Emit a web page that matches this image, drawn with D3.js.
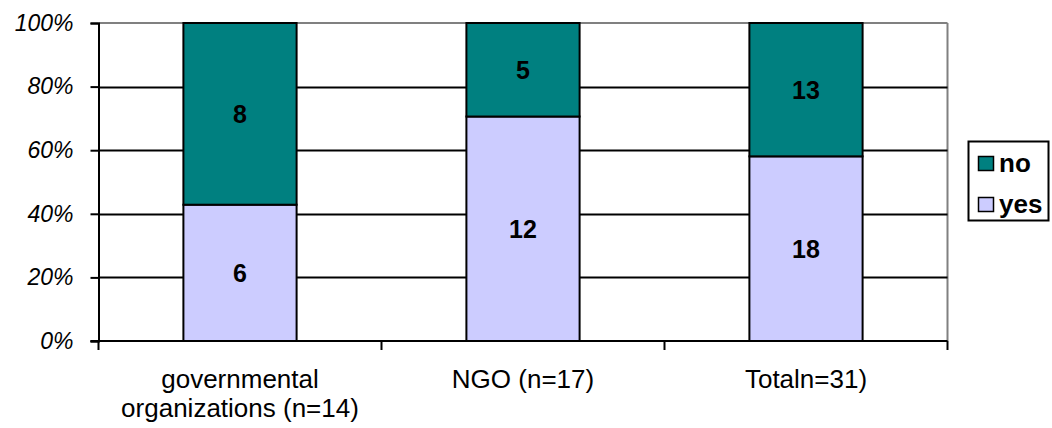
<!DOCTYPE html>
<html>
<head>
<meta charset="utf-8">
<script src="https://cdn.jsdelivr.net/npm/d3@7"></script>
<style>
  html, body { margin: 0; padding: 0; background: #fff; }
  svg { display: block; font-family: "Liberation Sans", Arial, sans-serif; }
</style>
</head>
<body>
<svg id="chart" width="1052" height="428"></svg>
<script>
// Survey answers per organization type
const categories = ["governmental organizations (n=14)", "NGO (n=17)", "Totaln=31)"];
const categoryLines = [["governmental", "organizations (n=14)"], ["NGO (n=17)"], ["Totaln=31)"]];
const yesCounts = [6, 12, 18];
const noCounts = [8, 5, 13];
const seriesNames = ["yes", "no"];
const yTicks = [0, 0.2, 0.4, 0.6, 0.8, 1.0];

const colors = { yes: "#CCCCFF", no: "#008080" };

const svg = d3.select("#chart");
const plot = { left: 98.5, right: 947.5, top: 23, bottom: 341 };

const x = d3.scaleBand()
  .domain(categories)
  .range([plot.left, plot.right])
  .paddingInner(0.6)
  .paddingOuter(0.3);

const y = d3.scaleLinear().domain([0, 1]).range([plot.bottom, plot.top]);

// Stack shares of yes / no per category
const rows = categories.map((c, i) => ({
  cat: c,
  yes: yesCounts[i] / (yesCounts[i] + noCounts[i]),
  no: noCounts[i] / (yesCounts[i] + noCounts[i]),
  yesN: yesCounts[i],
  noN: noCounts[i]
}));
const stacked = d3.stack().keys(seriesNames)(rows);

// Plot frame (gray top and right edges)
svg.append("line")
  .attr("x1", plot.left).attr("x2", plot.right)
  .attr("y1", plot.top).attr("y2", plot.top)
  .attr("stroke", "#808080").attr("stroke-width", 2);
svg.append("line")
  .attr("x1", plot.right).attr("x2", plot.right)
  .attr("y1", plot.top).attr("y2", plot.bottom)
  .attr("stroke", "#808080").attr("stroke-width", 2);

// Horizontal gridlines
svg.append("g")
  .selectAll("line")
  .data(yTicks.filter(t => t > 0 && t < 1))
  .join("line")
  .attr("x1", plot.left).attr("x2", plot.right)
  .attr("y1", d => Math.round(y(d)) + 0.5).attr("y2", d => Math.round(y(d)) + 0.5)
  .attr("stroke", "#000").attr("stroke-width", 2);

// Bars
const layer = svg.append("g")
  .selectAll("g")
  .data(stacked)
  .join("g")
  .attr("fill", d => colors[d.key]);

layer.selectAll("rect")
  .data(d => d.map(v => ({ key: d.key, v })))
  .join("rect")
  .attr("x", d => x(d.v.data.cat))
  .attr("width", x.bandwidth())
  .attr("y", d => y(d.v[1]))
  .attr("height", d => y(d.v[0]) - y(d.v[1]))
  .attr("stroke", "#000")
  .attr("stroke-width", 2);

// Value labels centred in each segment
layer.selectAll("text")
  .data(d => d.map(v => ({ key: d.key, v })))
  .join("text")
  .attr("x", d => x(d.v.data.cat) + x.bandwidth() / 2)
  .attr("y", d => (y(d.v[0]) + y(d.v[1])) / 2)
  .attr("dy", "0.36em")
  .attr("text-anchor", "middle")
  .attr("fill", "#000")
  .attr("font-weight", "bold")
  .attr("font-size", 25)
  .text(d => d.key === "yes" ? d.v.data.yesN : d.v.data.noN);

// Y axis
const yAxis = svg.append("g")
  .attr("transform", `translate(${plot.left},0)`)
  .call(d3.axisLeft(y).tickValues(yTicks).tickFormat(d3.format(".0%")).tickSize(8).tickPadding(17));
yAxis.select(".domain").attr("stroke", "#000").attr("stroke-width", 2);
yAxis.selectAll(".tick line").attr("stroke", "#000").attr("stroke-width", 2);
yAxis.selectAll(".tick text")
  .attr("font-size", 23).attr("font-style", "italic")
  .attr("font-family", "'Liberation Sans', Arial, sans-serif").attr("fill", "#000");

// X axis with ticks at category boundaries
const xAxisG = svg.append("g");
xAxisG.append("line")
  .attr("x1", plot.left - 8).attr("x2", plot.right)
  .attr("y1", plot.bottom).attr("y2", plot.bottom)
  .attr("stroke", "#000").attr("stroke-width", 2);
const boundaries = d3.range(categories.length + 1).map(i => plot.left + i * (plot.right - plot.left) / categories.length);
xAxisG.selectAll("line.tk")
  .data(boundaries)
  .join("line")
  .attr("class", "tk")
  .attr("x1", d => d).attr("x2", d => d)
  .attr("y1", plot.bottom).attr("y2", plot.bottom + 9)
  .attr("stroke", "#000").attr("stroke-width", 2);

xAxisG.selectAll("text.cat")
  .data(categories)
  .join("text")
  .attr("class", "cat")
  .attr("text-anchor", "middle")
  .attr("font-size", 26)
  .attr("fill", "#000")
  .each(function (c, i) {
    const t = d3.select(this);
    categoryLines[i].forEach((line, j) => {
      t.append("tspan")
        .attr("x", x(c) + x.bandwidth() / 2)
        .attr("y", 388 + j * 29)
        .text(line);
    });
  });

// Legend
const legend = svg.append("g");
legend.append("rect")
  .attr("x", 968.5).attr("y", 141.5).attr("width", 80).attr("height", 79)
  .attr("fill", "#fff").attr("stroke", "#000").attr("stroke-width", 2);
const legendItems = ["no", "yes"];
legendItems.forEach((k, i) => {
  const base = 171.5 + i * 41;
  legend.append("rect")
    .attr("x", 978.5).attr("y", base - 15).attr("width", 15).attr("height", 14)
    .attr("fill", colors[k]).attr("stroke", "#000").attr("stroke-width", 1.5);
  legend.append("text")
    .attr("x", 999).attr("y", base)
    .attr("font-size", 26).attr("font-weight", "bold").attr("fill", "#000")
    .text(k);
});
</script>
</body>
</html>
